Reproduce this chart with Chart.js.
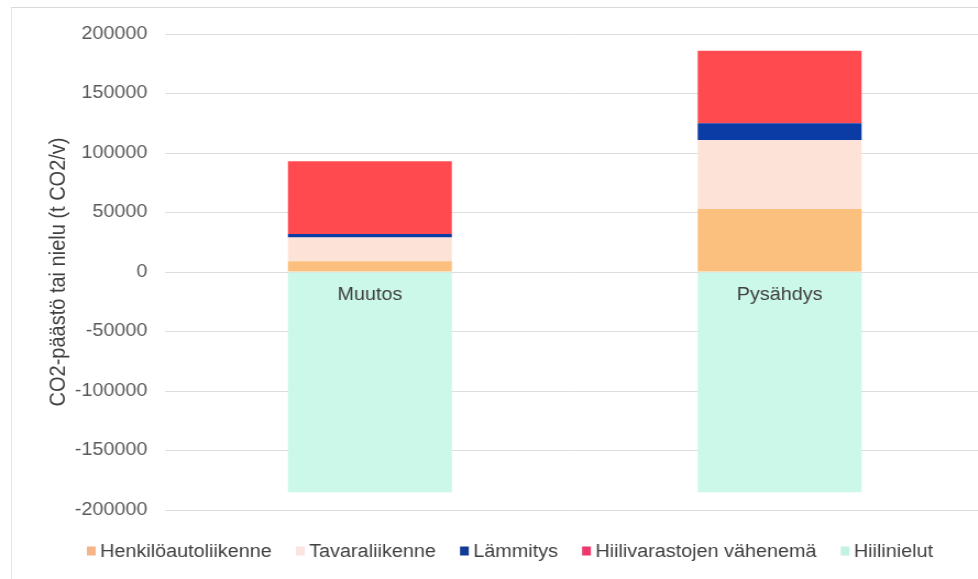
<!DOCTYPE html>
<html lang="fi">
<head>
<meta charset="utf-8">
<title>CO2-päästöt ja nielut</title>
<script src="https://cdn.jsdelivr.net/npm/chart.js@4/dist/chart.umd.min.js"></script>
<style>
  html, body { margin: 0; padding: 0; background: #ffffff; }
  #wrap { position: relative; width: 978px; height: 579px; overflow: hidden; }
  #frame { position: absolute; left: 11px; top: 7px; width: 1000px; height: 600px;
           border-top: 1px solid #d9d9d9; border-left: 1px solid #e6e6e6; }
  /* the drawing is widened slightly, giving the broad lettering of the original sheet */
  #chart { position: absolute; left: 0; top: 0; transform: scaleX(1.1); transform-origin: 0 0; }
</style>
</head>
<body>
<div id="wrap">
  <div id="frame"></div>
  <canvas id="chart" width="895" height="579"></canvas>
</div>
<script>
// Skenaariot
const categories = ['Muutos', 'Pysähdys'];

// Päästöt ja nielut, t CO2/v
const henkiloautoliikenne = [9000, 53000];
const tavaraliikenne = [20000, 58000];
const lammitys = [3000, 14000];
const hiilivarastojenVahenema = [61000, 61000];
const hiilinielut = [-185000, -185000];

// Y-akselin asteikko
const yMin = -200000;
const yMax = 200000;
const yStep = 50000;

const seriesNames = ['Henkilöautoliikenne', 'Tavaraliikenne', 'Lämmitys', 'Hiilivarastojen vähenemä', 'Hiilinielut'];
const seriesValues = [henkiloautoliikenne, tavaraliikenne, lammitys, hiilivarastojenVahenema, hiilinielut];
const barColors = ['#fcc07e', '#fde3d7', '#0b3ca6', '#ff4b50', '#cbf8e9'];
const legendColors = ['#f6b589', '#fbe4e0', '#123c94', '#ee386d', '#c3f2e2'];

const FONT = "'Liberation Sans', Arial, sans-serif";
const TEXT = '#404040';

// Kategorianimet piirretään nollaviivan alle pylväiden kohdalle
const categoryLabels = {
  id: 'categoryLabels',
  afterDatasetsDraw(chart) {
    const { ctx, scales } = chart;
    const y0 = scales.y.getPixelForValue(0);
    ctx.save();
    ctx.font = '18px ' + FONT;
    ctx.fillStyle = TEXT;
    ctx.textAlign = 'center';
    ctx.textBaseline = 'middle';
    categories.forEach((c, i) => {
      ctx.fillText(c, scales.x.getPixelForValue(i), y0 + 23);
    });
    ctx.restore();
  }
};

// Selite kaavion alle: pieni neliö ja sarjan nimi
const bottomLegend = {
  id: 'bottomLegend',
  afterDraw(chart) {
    const { ctx } = chart;
    const startX = 79, centerY = 551;
    const box = 8, boxGap = 4, itemGap = 22;
    ctx.save();
    ctx.font = '18px ' + FONT;
    ctx.textBaseline = 'middle';
    ctx.textAlign = 'left';
    let x = startX;
    seriesNames.forEach((name, i) => {
      ctx.fillStyle = legendColors[i];
      ctx.fillRect(x, centerY - 4.5, box, 9);
      x += box + boxGap;
      ctx.fillStyle = TEXT;
      ctx.fillText(name, x, centerY + 1);
      x += ctx.measureText(name).width + itemGap;
    });
    ctx.restore();
  }
};

new Chart(document.getElementById('chart'), {
  type: 'bar',
  data: {
    labels: categories,
    datasets: seriesNames.map((name, i) => ({
      label: name,
      data: seriesValues[i],
      backgroundColor: barColors[i],
      borderWidth: 0,
      stack: 's',
      categoryPercentage: 0.4,
      barPercentage: 1.0
    }))
  },
  options: {
    responsive: false,
    animation: false,
    layout: { padding: { left: 0, top: 34, right: 0, bottom: 69 } },
    plugins: {
      tooltip: { enabled: false },
      legend: { display: false }
    },
    scales: {
      x: {
        display: false,
        stacked: true
      },
      y: {
        stacked: true,
        min: yMin,
        max: yMax,
        afterFit(scale) { scale.width = 150; },
        ticks: {
          stepSize: yStep,
          padding: 16,
          color: '#595959',
          font: { size: 18, family: FONT },
          callback: (v) => String(v)
        },
        grid: { color: '#dddddd', lineWidth: 1, drawTicks: false },
        border: { display: false },
        title: {
          display: true,
          text: 'CO2-päästö tai nielu (t CO2/v)',
          color: TEXT,
          font: { size: 20, family: FONT },
          padding: { top: 41, bottom: 0 }
        }
      }
    }
  },
  plugins: [categoryLabels, bottomLegend]
});
</script>
</body>
</html>
